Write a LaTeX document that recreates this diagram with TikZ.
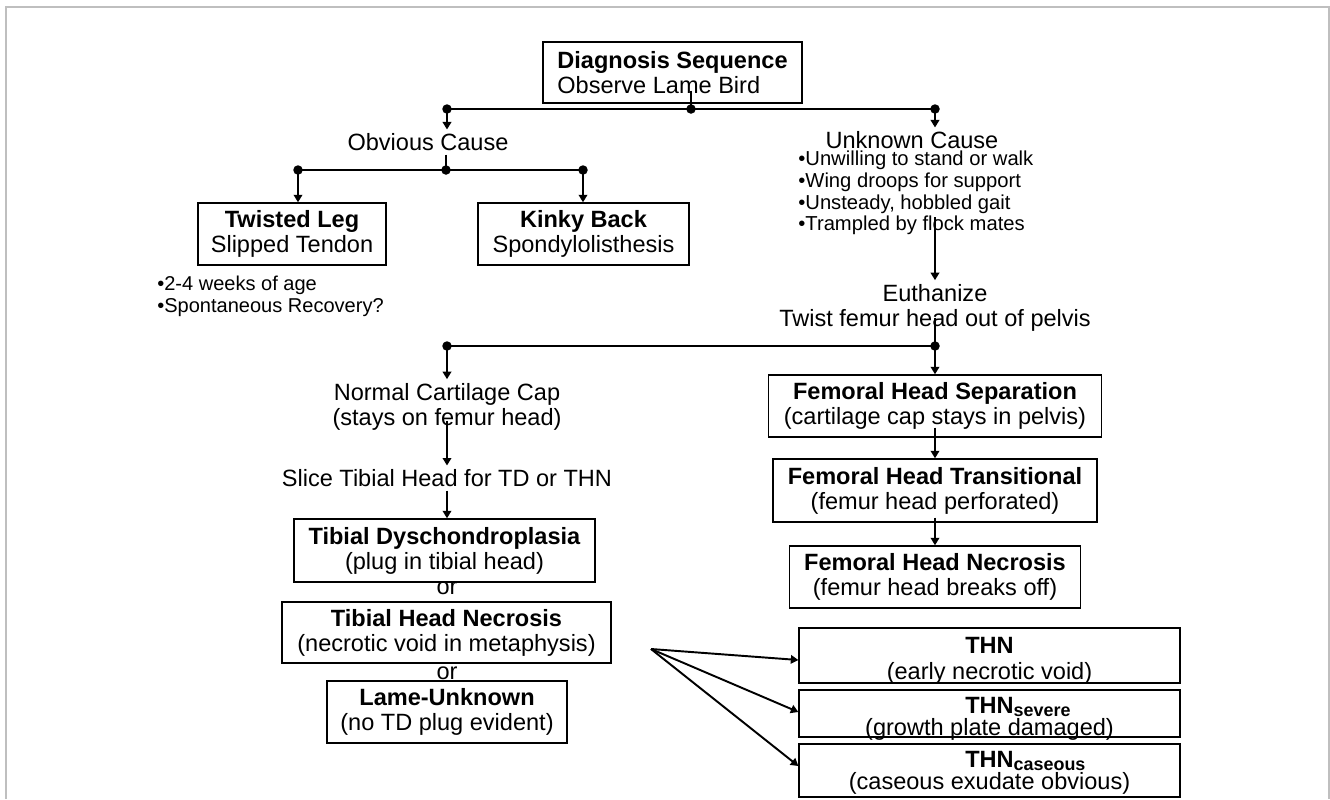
\documentclass[tikz,border=0pt]{standalone}
\usepackage{fontspec}
\setmainfont{Liberation Sans}
\usetikzlibrary{arrows.meta}
\newcommand{\thnsub}[1]{\rlap{\smash{\raisebox{-0.3ex}{\fontsize{10.2}{11}\selectfont\bfseries #1}}}}

\begin{document}
\begin{tikzpicture}[x=0.02cm, y=-0.02cm,
  box/.style={draw, line width=0.8pt, align=center, inner sep=0pt, font=\fontsize{13.4}{14.2}\selectfont},
  lbl/.style={align=center, inner sep=2pt, font=\fontsize{13.4}{14.2}\selectfont},
  bul/.style={align=left, inner sep=0pt, font=\fontsize{11.5}{12.4}\selectfont},
  link/.style={line width=1.1pt},
  arr/.style={line width=1.1pt, -{Triangle[length=0.15cm,width=0.17cm]}},
  dot/.style={circle, fill, inner sep=0pt, minimum size=0.19cm}]
\useasboundingbox (0,0) rectangle (1330,799);
\draw[black!25, line width=0.9pt] (6,799) -- (6,7) -- (1329,7) -- (1329,799);
% top of the sequence
\node[box, align=left, minimum width=5.18cm, minimum height=1.22cm] (diag) at (672.5,72.5) {\textbf{Diagnosis Sequence}\\Observe Lame Bird};
\node[lbl] (obvious) at (428,142) {Obvious Cause};
\node[lbl] (unknown) at (912,140) {Unknown Cause};
\node[bul, anchor=west] (unkbul) at (798,193) {•Unwilling to stand or walk\\•Wing droops for support\\•Unsteady, hobbled gait\\•Trampled by flock mates};
% obvious cause
\node[box, minimum width=3.76cm, minimum height=1.24cm] (twisted) at (292,234) {\textbf{Twisted Leg}\\Slipped Tendon};
\node[box, minimum width=4.22cm, minimum height=1.24cm] (kinky) at (583.5,234) {\textbf{Kinky Back}\\Spondylolisthesis};
\node[bul, anchor=west, font=\fontsize{11.4}{12.5}\selectfont] (twbul) at (157,296) {•2-4 weeks of age\\•Spontaneous Recovery?};
% unknown cause
\node[lbl] (euth) at (935,307.5) {Euthanize\\Twist femur head out of pelvis};
\node[lbl] (normal) at (447,406.5) {Normal Cartilage Cap\\(stays on femur head)};
\node[lbl] (slice) at (447,478) {Slice Tibial Head for TD or THN};
\node[box, minimum width=6.02cm, minimum height=1.26cm] (td) at (444.5,550.5) {\textbf{Tibial Dyschondroplasia}\\(plug in tibial head)};
\node[lbl, inner sep=0pt] (or1) at (447,588) {or};
\node[box, minimum width=6.58cm, minimum height=1.22cm] (thn) at (446.5,632.5) {\textbf{Tibial Head Necrosis}\\(necrotic void in metaphysis)};
\node[lbl, inner sep=0pt] (or2) at (447,673) {or};
\node[box, minimum width=4.8cm, minimum height=1.24cm] (lame) at (447,712) {\textbf{Lame-Unknown}\\(no TD plug evident)};
\node[box, minimum width=6.66cm, minimum height=1.24cm] (fsep) at (935,406) {\textbf{Femoral Head Separation}\\(cartilage cap stays in pelvis)};
\node[box, minimum width=6.48cm, minimum height=1.26cm] (ftrans) at (935,490.5) {\textbf{Femoral Head Transitional}\\(femur head perforated)};
\node[box, minimum width=5.82cm, minimum height=1.24cm] (fnec) at (935,577) {\textbf{Femoral Head Necrosis}\\(femur head breaks off)};
% THN grades
\node[box, minimum width=7.62cm, minimum height=1.1cm] (thnA) at (989.5,655.5) {};
\node[box, minimum width=7.62cm, minimum height=0.94cm] (thnB) at (989.5,713.5) {};
\node[box, minimum width=7.62cm, minimum height=1.06cm] (thnC) at (989.5,770.5) {};
\node[lbl, inner sep=0pt, font=\fontsize{13.4}{14.8}\selectfont] (thnAt) at (989.5,661) {\textbf{THN}\\(early necrotic void)};
\node[lbl, inner sep=0pt, font=\fontsize{13.4}{12.6}\selectfont] (thnBt) at (989.5,718.5) {\textbf{THN}\thnsub{severe}\\(growth plate damaged)};
\node[lbl, inner sep=0pt, font=\fontsize{13.4}{12.6}\selectfont] (thnCt) at (989.5,772.5) {\textbf{THN}\thnsub{caseous}\\(caseous exudate obvious)};
% junctions
\coordinate (bL) at (447,109);
\coordinate (bM) at (691,109);
\coordinate (bR) at (935,109);
\coordinate (oL) at (298,170);
\coordinate (oM) at (446,170);
\coordinate (oR) at (583,170);
\coordinate (cL) at (447,346);
\coordinate (cR) at (935,346);
\coordinate (uS) at (935,217);
\coordinate (fan) at (651,649);
% connectors
\draw[link] (bL) -- (bR);
\draw[link] ([yshift=0.26cm]diag.south -| bM) -- (bM);
\draw[arr] (bL) -- (bL |- obvious.north);
\draw[arr] (bR) -- (bR |- unknown.north);
\draw[link] (oL) -- (oR);
\draw[link] (obvious.south -| oM) -- (oM);
\draw[arr] (oL) -- (oL |- twisted.north);
\draw[arr] (oR) -- (oR |- kinky.north);
\draw[arr] (uS) -- (uS |- euth.north);
\draw[link] (cL) -- (cR);
\draw[link] ([yshift=-0.2cm]euth.center) -- (cR);
\draw[arr] (cL) -- (cL |- normal.north);
\draw[arr] (cR) -- (fsep.north);
\draw[arr] ([yshift=-0.28cm]normal.center) -- (slice.north);
\draw[arr] (slice.south) -- (slice.south |- td.north);
\draw[arr] ([yshift=0.2cm]fsep.south) -- (ftrans.north);
\draw[arr] ([yshift=0.1cm]ftrans.south) -- (fnec.north);
\foreach \t/\s in {thnA/-0.09cm, thnB/0.03cm, thnC/0.09cm}
  \draw[arr] (fan) -- ([yshift=\s]\t.west);
\foreach \p in {bL,bM,bR,oL,oM,oR,cL,cR}
  \node[dot] (d\p) at (\p) {};
\end{tikzpicture}
\end{document}
